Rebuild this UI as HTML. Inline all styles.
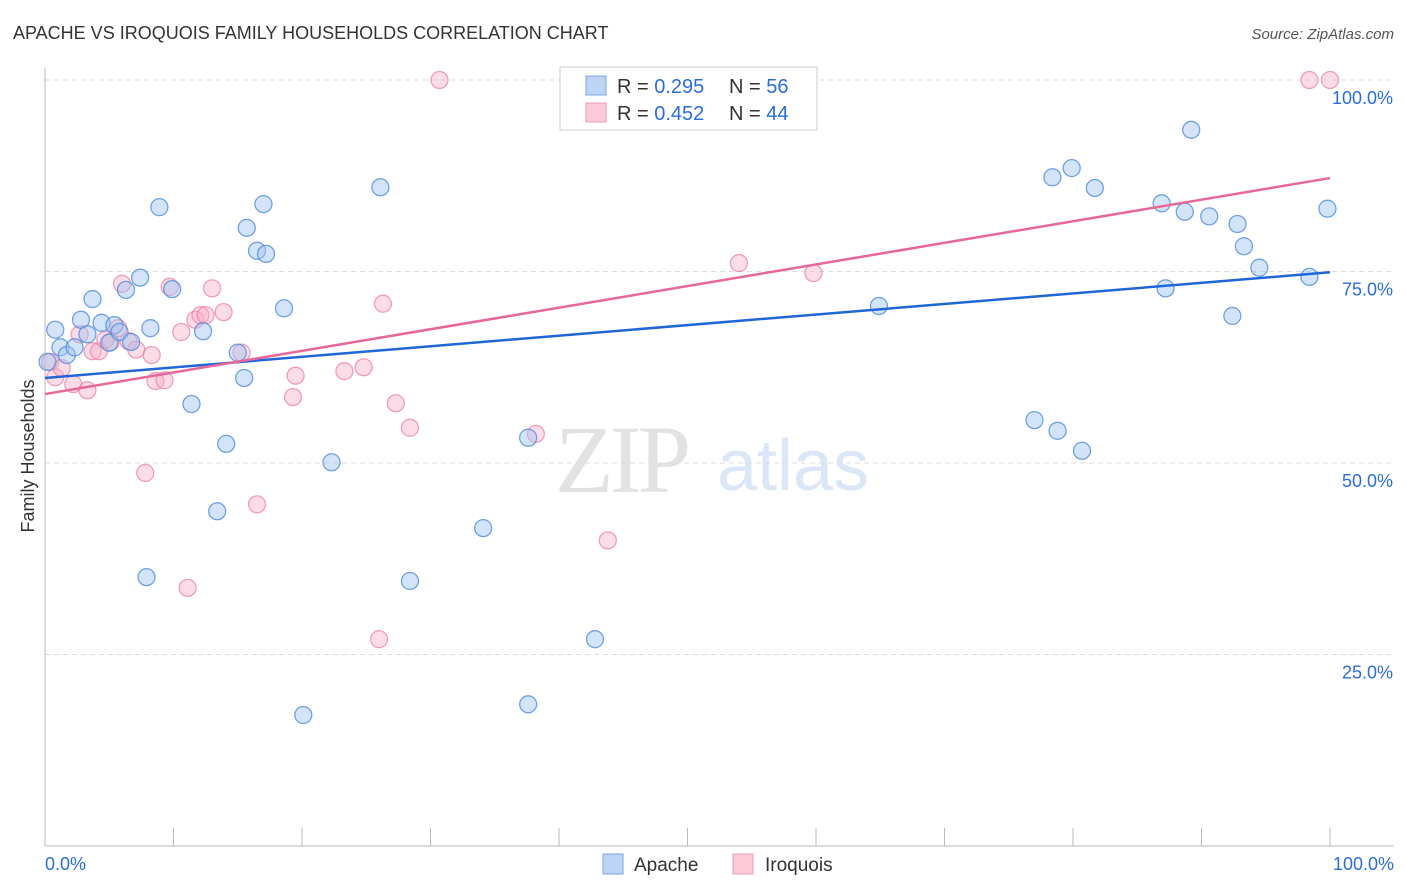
<!DOCTYPE html>
<html><head><meta charset="utf-8"><style>
body{margin:0;background:#fff;font-family:"Liberation Sans",sans-serif;}
svg{display:block}
</style></head><body>
<svg id="chart" width="1406" height="892">
<text x="13" y="39" font-size="18" fill="#333">APACHE VS IROQUOIS FAMILY HOUSEHOLDS CORRELATION CHART</text>
<text x="1394" y="39" font-size="15" fill="#555" font-style="italic" text-anchor="end">Source: ZipAtlas.com</text>
<text transform="translate(34,456) rotate(-90)" font-size="18" fill="#333" text-anchor="middle">Family Households</text>
<g>
<text x="555" y="492" font-size="96" fill="#e2e2e2" font-family="Liberation Serif,serif" letter-spacing="-4">ZIP</text>
<text x="717" y="490" font-size="72" fill="#dbe7f6">atlas</text>
</g>
<g id="grid"></g><g id="axes"></g>
<g id="pts"></g><g id="lines"></g>
<g>
<rect x="560" y="67" width="257" height="63" fill="#fff" stroke="#ccc"/>
<rect x="586" y="76" width="20" height="19" fill="#bcd5f5" stroke="#7aa8e6"/>
<rect x="586" y="103" width="20" height="19" fill="#fbc9d8" stroke="#f09ab8"/>
<text x="617" y="93" font-size="20" fill="#333">R = <tspan fill="#2a6ed8">0.295</tspan></text>
<text x="729" y="93" font-size="20" fill="#333">N = <tspan fill="#2a6ed8">56</tspan></text>
<text x="617" y="120" font-size="20" fill="#333">R = <tspan fill="#2a6ed8">0.452</tspan></text>
<text x="729" y="120" font-size="20" fill="#333">N = <tspan fill="#2a6ed8">44</tspan></text>
</g>
<g>
<rect x="603" y="854" width="20" height="20" fill="#bcd5f5" stroke="#7aa8e6"/>
<text x="634" y="871" font-size="19" fill="#333">Apache</text>
<rect x="733" y="854" width="20" height="20" fill="#fbc9d8" stroke="#f09ab8"/>
<text x="765" y="871" font-size="19" fill="#333">Iroquois</text>
</g>
</svg>
<script>
const yTicks=[25,50,75,100];
const xTickLabels=["0.0%","100.0%"];
const apacheX=[0.8,1.2,1.7,2.3,2.8,3.3,3.7,4.4,5.0,5.4,5.8,6.3,6.7,7.4,7.9,8.2,8.9,9.9,11.4,12.3,13.4,14.1,15.0,15.5,15.7,16.5,17.0,17.2,18.6,20.1,22.3,26.1,28.4,34.1,37.6,37.6,42.8,64.9,77.0,78.4,78.8,79.9,80.7,81.7,86.9,87.2,88.7,89.2,90.6,92.4,92.8,93.3,94.5,98.4,99.8,0.2];
const apacheY=[67.4,65.1,64.1,65.1,68.7,66.8,71.4,68.3,65.7,68.0,67.1,72.6,65.8,74.2,35.1,67.6,83.4,72.7,57.7,67.2,43.7,52.5,64.4,61.1,80.7,77.7,83.8,77.3,70.2,17.1,50.1,86.0,34.6,41.5,53.3,18.5,27.0,70.5,55.6,87.3,54.2,88.5,51.6,85.9,83.9,72.8,82.8,93.5,82.2,69.2,81.2,78.3,75.5,74.3,83.2,63.2];
const iroqX=[0.4,0.8,1.3,2.2,2.7,3.3,3.7,4.2,4.7,5.1,5.7,6.0,6.5,7.1,7.8,8.3,8.6,9.3,9.7,10.6,11.1,11.7,12.1,12.5,13.0,13.9,15.3,16.5,19.3,19.5,23.3,24.8,26.0,26.3,27.3,28.4,30.7,38.2,43.8,54.0,59.8,98.4,100];
const iroqY=[63.2,61.2,62.4,60.3,66.8,59.5,64.6,64.6,66.1,65.8,67.6,73.4,65.9,64.8,48.7,64.1,60.7,60.8,73.0,67.1,33.7,68.7,69.3,69.3,72.8,69.7,64.4,44.6,58.6,61.4,62.0,62.5,27.0,70.8,57.8,54.6,100,53.8,39.9,76.1,74.8,100,100];
const apacheLine=[61.1,74.9];
const iroqLine=[59.0,87.2];
const NS="http://www.w3.org/2000/svg";
const sx=v=>45+v*12.85, sy=v=>846-v*7.66;
function mk(t,a,p){const e=document.createElementNS(NS,t);for(const k in a)e.setAttribute(k,a[k]);p.appendChild(e);return e;}
const grid=document.getElementById('grid'),axes=document.getElementById('axes');
yTicks.forEach(t=>{
 const l=mk('line',{x1:45,x2:1394,y1:sy(t),y2:sy(t),stroke:'#ddd','stroke-dasharray':'5,4'},grid);
 
 
 const tx=mk('text',{x:1393,y:sy(t)+24,'font-size':18,fill:'#2a6ed8','text-anchor':'end'},axes);
 tx.textContent=t.toFixed(1)+'%';
 
 
});
mk('line',{x1:45,x2:45,y1:68,y2:846,stroke:'#bbb'},axes);
mk('line',{x1:45,x2:1394,y1:846,y2:846,stroke:'#bbb'},axes);
for(let i=1;i<=10;i++){mk('line',{x1:sx(i*10),x2:sx(i*10),y1:828,y2:846,stroke:'#bbb'},axes);}
const xl0=mk('text',{x:45,y:870,'font-size':18,fill:'#2a6ed8'},axes);xl0.textContent=xTickLabels[0];


const xl1=mk('text',{x:1394,y:870,'font-size':18,fill:'#2a6ed8','text-anchor':'end'},axes);xl1.textContent=xTickLabels[1];


const pts=document.getElementById('pts');
iroqX.forEach((x,i)=>{const c=mk('circle',{cx:sx(x),cy:sy(iroqY[i]),r:8.5,fill:'rgba(248,170,195,0.4)',stroke:'rgba(236,130,165,0.75)','stroke-width':1.3},pts);
 
 });
apacheX.forEach((x,i)=>{const c=mk('circle',{cx:sx(x),cy:sy(apacheY[i]),r:8.5,fill:'rgba(160,195,240,0.45)',stroke:'rgba(80,140,220,0.8)','stroke-width':1.3},pts);
 
 });
const lines=document.getElementById('lines');
const bl=mk('line',{x1:sx(0),y1:sy(apacheLine[0]),x2:sx(100),y2:sy(apacheLine[1]),stroke:'#1f66d6','stroke-width':2.5},lines);


const pl=mk('line',{x1:sx(0),y1:sy(iroqLine[0]),x2:sx(100),y2:sy(iroqLine[1]),stroke:'#e8679a','stroke-width':2.5},lines);


</script>
</body></html>
